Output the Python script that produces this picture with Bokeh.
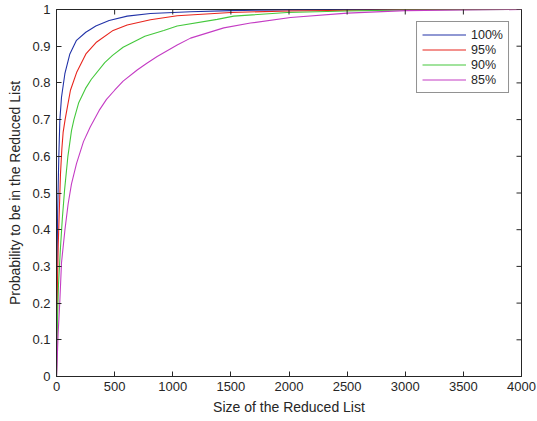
import math
from bokeh.plotting import figure
from bokeh.models import Range1d, FixedTicker, Legend
from bokeh.embed import file_html
from bokeh.resources import INLINE

# ---- data ----
x_100 = [0, 2, 5, 10, 20, 29, 43, 72, 115, 172, 252, 287, 338, 453, 608, 808, 1153, 1500, 2000, 2500, 4000]
y_100 = [0, 0.15, 0.3, 0.45, 0.60, 0.70, 0.761, 0.825, 0.879, 0.916, 0.938, 0.945, 0.955, 0.970, 0.982, 0.989, 0.994, 0.997, 0.999, 1.0, 1.0]

x_95 = [0, 3, 8, 15, 23, 34, 46, 57, 74, 120, 175, 255, 340, 487, 608, 808, 1038, 1500, 2000, 2500, 3000, 4000]
y_95 = [0, 0.1, 0.25, 0.36, 0.44, 0.55, 0.62, 0.665, 0.70, 0.78, 0.83, 0.88, 0.91, 0.943, 0.958, 0.972, 0.983, 0.992, 0.996, 0.998, 1.0, 1.0]

x_90 = [0, 4, 8, 17, 34, 50, 70, 98, 129, 150, 190, 250, 300, 415, 482, 573, 760, 923, 1038, 1382, 1525, 1984, 2500, 3000, 4000]
y_90 = [0, 0.08, 0.15, 0.25, 0.35, 0.43, 0.51, 0.60, 0.67, 0.70, 0.745, 0.785, 0.81, 0.855, 0.875, 0.897, 0.927, 0.943, 0.955, 0.973, 0.982, 0.992, 0.996, 0.999, 1.0]

x_85 = [0, 3, 14, 29, 43, 72, 100, 129, 172, 232, 290, 367, 430, 500, 573, 694, 774, 866, 1038, 1153, 1439, 1669, 2013, 2501, 3000, 3500, 4000]
y_85 = [0, 0.02, 0.117, 0.207, 0.31, 0.398, 0.47, 0.525, 0.58, 0.64, 0.68, 0.725, 0.755, 0.78, 0.805, 0.835, 0.853, 0.872, 0.903, 0.922, 0.95, 0.963, 0.978, 0.99, 0.997, 0.999, 1.0]

series_labels = ["100%", "95%", "90%", "85%"]
series_colors = ["#2233a8", "#e8251d", "#44c83c", "#c43cc4"]

x_ticks = [0, 500, 1000, 1500, 2000, 2500, 3000, 3500, 4000]
y_ticks = [0, 0.1, 0.2, 0.3, 0.4, 0.5, 0.6, 0.7, 0.8, 0.9, 1.0]
y_tick_labels = ["0", "0.1", "0.2", "0.3", "0.4", "0.5", "0.6", "0.7", "0.8", "0.9", "1"]

X_MIN, X_MAX = 0, 4000
Y_MIN, Y_MAX = 0, 1

FONT = "Liberation Sans"
AX = "#262626"

p = figure(width=537, height=421, output_backend="svg", toolbar_location=None,
           x_range=Range1d(X_MIN, X_MAX), y_range=Range1d(Y_MIN, Y_MAX),
           min_border_left=56, min_border_right=16, min_border_top=9, min_border_bottom=45)
p.background_fill_color = "white"
p.border_fill_color = "white"
p.outline_line_color = AX
p.outline_line_width = 1
p.xgrid.visible = False
p.ygrid.visible = False

xs = [x_100, x_95, x_90, x_85]
ys = [y_100, y_95, y_90, y_85]
items = []
for xx, yy, lab, col in zip(xs, ys, series_labels, series_colors):
    r = p.line(xx, yy, line_color=col, line_width=1.1)
    items.append((lab, [r]))

# inward ticks on top and right edges of the box (half of each dash is clipped by the frame)
p.scatter(x_ticks, [Y_MAX] * len(x_ticks), marker="dash", angle=math.pi / 2, size=10,
          line_color=AX, line_width=1)
p.scatter([X_MAX] * len(y_ticks), y_ticks, marker="dash", size=10,
          line_color=AX, line_width=1)

for ax in (p.xaxis[0], p.yaxis[0]):
    ax.axis_line_color = AX
    ax.major_tick_line_color = AX
    ax.major_tick_in = 5
    ax.major_tick_out = 0
    ax.minor_tick_line_color = None
    ax.major_label_text_font = FONT
    ax.major_label_text_color = "#262626"
    ax.major_label_text_font_size = "13px"
    ax.axis_label_text_font = FONT
    ax.axis_label_text_font_size = "14px"
    ax.axis_label_text_font_style = "normal"
    ax.axis_label_text_color = "#262626"

p.xaxis.ticker = FixedTicker(ticks=x_ticks)
p.yaxis.ticker = FixedTicker(ticks=y_ticks)
p.yaxis.major_label_overrides = {t: l for t, l in zip(y_ticks, y_tick_labels)}
p.xaxis.axis_label = "Size of the Reduced List"
p.yaxis.axis_label = "Probability to be in the Reduced List"
p.xaxis.major_label_standoff = 5
p.xaxis.axis_label_standoff = 5
p.yaxis.major_label_standoff = 6
p.yaxis.axis_label_standoff = 6

leg = Legend(items=items, location="top_right")
leg.margin = 12
leg.padding = 5
leg.spacing = 0
leg.label_height = 15
leg.glyph_height = 15
leg.glyph_width = 44
leg.label_standoff = 5
leg.label_text_font = FONT
leg.label_text_font_size = "12.5px"
leg.label_text_color = "#262626"
leg.border_line_color = AX
leg.border_line_width = 1
leg.background_fill_color = "white"
leg.background_fill_alpha = 1
p.add_layout(leg, "center")

open("out.html", "w").write(file_html(p, INLINE))
